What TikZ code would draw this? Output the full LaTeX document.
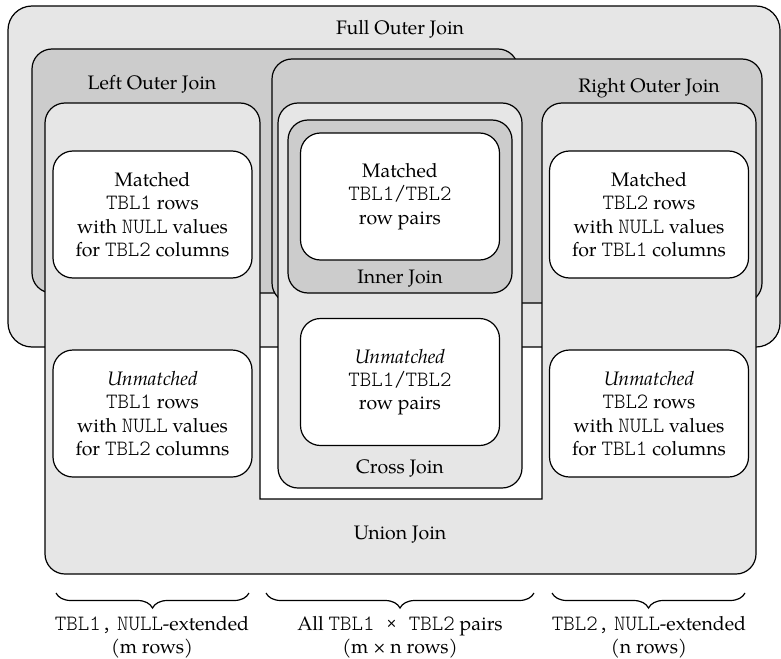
\documentclass[tikz,border=0pt]{standalone}
\usepackage{fontspec}
\setmainfont{TeX Gyre Pagella}
\setmonofont{lmmonolt10-regular.otf}[Scale=1.12]
\usepackage{xcolor}
\usetikzlibrary{decorations.pathreplacing}
\definecolor{joinlight}{HTML}{E6E6E6}
\definecolor{joindark}{HTML}{CCCCCC}
\definecolor{textmain}{HTML}{000000}

\begin{document}
\begin{tikzpicture}[
    x=0.5pt, y=-0.5pt,
    region/.style={draw=black, line width=0.6pt, rounded corners=10pt},
    lightregion/.style={region, fill=joinlight},
    darkregion/.style={region, fill=joindark},
    rowbox/.style={rectangle, draw=black, line width=0.6pt, fill=white, text=textmain,
                rounded corners=10pt, minimum width=99.5pt, minimum height=63.5pt,
                inner sep=0pt, align=center, font=\fontsize{9.75}{11.7}\selectfont},
    title/.style={text=textmain, anchor=base, inner sep=0pt, font=\fontsize{9.75}{11.7}\selectfont},
    note/.style={text=textmain, align=center, inner sep=0pt, font=\fontsize{9.75}{11.7}\selectfont},
    brace/.style={decorate, decoration={brace, amplitude=7.5pt}, line width=0.6pt}
  ]
    \useasboundingbox (0,0) rectangle (781,658);

    \draw[lightregion, rounded corners=12pt] (8,6) rectangle (780,347);
    \draw[darkregion] (32,49) rectangle (518,293);
    \draw[darkregion] (272,59) rectangle (762,303);
    \draw[lightregion, sharp corners] (400,499) -- (260,499) -- (260,300)
        [rounded corners=10pt] -- (260,103) -- (45,103) -- (45,574) -- (756,574)
        -- (756,103) -- (542,103) -- (542,300) [sharp corners] -- (542,499) -- cycle;
    \draw[lightregion] (278,103) rectangle (522,488);
    \draw[darkregion] (288,120) rectangle (512,293);

    \node[title] (full) at (400,35) {Full Outer Join};
    \node[title] (left) at (152,90) {Left Outer Join};
    \node[title] (right) at (649,93) {Right Outer Join};
    \node[title] (inner) at (400,283) {Inner Join};
    \node[title] (cross) at (400,473) {Cross Join};
    \node[title] (union) at (400,539) {Union Join};

    \node[rowbox] (lmatch) at (152.5,214.5) {Matched\\\texttt{TBL1} rows\\with \texttt{NULL} values\\for \texttt{TBL2} columns};
    \node[rowbox] (lunmatch) at (152.5,413.5) {\textit{Unmatched}\\\texttt{TBL1} rows\\with \texttt{NULL} values\\for \texttt{TBL2} columns};
    \node[rowbox] (imatch) at (400,196.5) {Matched\\\texttt{TBL1/TBL2}\\row pairs};
    \node[rowbox] (cunmatch) at (400,382) {\textit{Unmatched}\\\texttt{TBL1/TBL2}\\row pairs};
    \node[rowbox] (rmatch) at (649,214.5) {Matched\\\texttt{TBL2} rows\\with \texttt{NULL} values\\for \texttt{TBL1} columns};
    \node[rowbox] (runmatch) at (649,413.5) {\textit{Unmatched}\\\texttt{TBL2} rows\\with \texttt{NULL} values\\for \texttt{TBL1} columns};

    \coordinate (lbraceL) at (56,593);
    \coordinate (lbraceR) at (249,593);
    \coordinate (mbraceL) at (266,593);
    \coordinate (mbraceR) at (534,593);
    \coordinate (rbraceL) at (552,593);
    \coordinate (rbraceR) at (745,593);
    \draw[brace] (lbraceR) -- (lbraceL);
    \draw[brace] (mbraceR) -- (mbraceL);
    \draw[brace] (rbraceR) -- (rbraceL);

    \node[note] (lnote) at (152,637) {\texttt{TBL1,} \texttt{NULL}-extended\\(m rows)};
    \node[note] (mnote) at (400,637) {All \texttt{TBL1 × TBL2} pairs\\(m × n rows)};
    \node[note] (rnote) at (649,637) {\texttt{TBL2,} \texttt{NULL}-extended\\(n rows)};
  \end{tikzpicture}
\end{document}
